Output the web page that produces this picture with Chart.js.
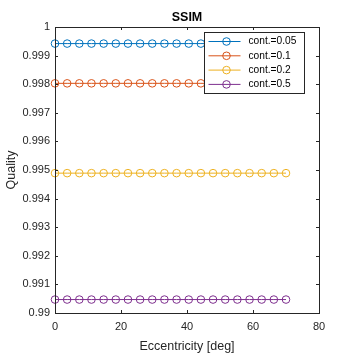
<!DOCTYPE html>
<html>
<head>
<meta charset="utf-8">
<script src="https://cdn.jsdelivr.net/npm/chart.js@4.4.0/dist/chart.umd.min.js"></script>
<style>
  html, body { margin: 0; padding: 0; background: #fff; }
  #wrap { width: 354px; height: 354px; }
</style>
</head>
<body>
<div id="wrap"><canvas id="c" width="354" height="354"></canvas></div>
<script>
// eccentricity samples (deg)
const ecc = [0, 3.68, 7.37, 11.05, 14.74, 18.42, 22.11, 25.79, 29.47, 33.16,
             36.84, 40.53, 44.21, 47.89, 51.58, 55.26, 58.95, 62.63, 66.32, 70];

const labels = ['cont.=0.05', 'cont.=0.1', 'cont.=0.2', 'cont.=0.5'];
const colors = ['#0072BD', '#D95319', '#EDB120', '#7E2F8E'];

const q005 = [0.99942, 0.99942, 0.99942, 0.99942, 0.99942, 0.99942, 0.99942, 0.99942, 0.99942, 0.99942,
              0.99942, 0.99942, 0.99942, 0.99942, 0.99942, 0.99942, 0.99942, 0.99942, 0.99942, 0.99942];
const q01  = [0.99803, 0.99803, 0.99803, 0.99803, 0.99803, 0.99803, 0.99803, 0.99803, 0.99803, 0.99803,
              0.99803, 0.99803, 0.99803, 0.99803, 0.99803, 0.99803, 0.99803, 0.99803, 0.99803, 0.99803];
const q02  = [0.99489, 0.99489, 0.99489, 0.99489, 0.99489, 0.99489, 0.99489, 0.99489, 0.99489, 0.99489,
              0.99489, 0.99489, 0.99489, 0.99489, 0.99489, 0.99489, 0.99489, 0.99489, 0.99489, 0.99489];
const q05  = [0.99047, 0.99047, 0.99047, 0.99047, 0.99047, 0.99047, 0.99047, 0.99047, 0.99047, 0.99047,
              0.99047, 0.99047, 0.99047, 0.99047, 0.99047, 0.99047, 0.99047, 0.99047, 0.99047, 0.99047];

const xTicks = [0, 20, 40, 60, 80];
const yTicks = [0.99, 0.991, 0.992, 0.993, 0.994, 0.995, 0.996, 0.997, 0.998, 0.999, 1];

const series = [q005, q01, q02, q05];
const FONT = 'Liberation Sans, Arial, Helvetica, sans-serif';

// matlab style box + inward ticks + legend inside the axes
const matlabAxes = {
    id: 'matlabAxes',
    afterDatasetsDraw(chart) {
        const c = chart.ctx;
        const a = chart.chartArea;
        const xs = chart.scales.x, ys = chart.scales.y;
        c.save();
        c.strokeStyle = '#262626';
        c.lineWidth = 1;
        c.beginPath();
        xTicks.forEach(v => {
            const px = Math.round(xs.getPixelForValue(v)) + 0.5;
            c.moveTo(px, a.bottom); c.lineTo(px, a.bottom - 3);
            c.moveTo(px, a.top); c.lineTo(px, a.top + 3);
        });
        yTicks.forEach(v => {
            const py = Math.round(ys.getPixelForValue(v)) + 0.5;
            c.moveTo(a.left, py); c.lineTo(a.left + 3, py);
            c.moveTo(a.right, py); c.lineTo(a.right - 3, py);
        });
        c.stroke();
        c.strokeRect(Math.round(a.left) + 0.5, Math.round(a.top) + 0.5,
                     Math.round(a.right - a.left), Math.round(a.bottom - a.top));

        // legend
        const bx = Math.round(a.right) - 115 + 0.5, by = Math.round(a.top) + 5 + 0.5;
        const bw = 100, bh = 61;
        c.fillStyle = '#fff';
        c.fillRect(bx, by, bw, bh);
        c.strokeStyle = '#262626';
        c.strokeRect(bx, by, bw, bh);
        c.font = '10.2px ' + FONT;
        c.textBaseline = 'middle';
        chart.data.datasets.forEach((ds, i) => {
            const ry = by + 9 + i * 14.3;
            c.strokeStyle = ds.borderColor;
            c.beginPath();
            c.moveTo(bx + 4, ry); c.lineTo(bx + 36, ry);
            c.stroke();
            c.beginPath();
            c.arc(bx + 22, ry, 3.8, 0, Math.PI * 2);
            c.stroke();
            c.fillStyle = '#000';
            c.fillText(ds.label, bx + 44, ry);
        });
        c.restore();
    }
};

new Chart(document.getElementById('c'), {
    type: 'line',
    data: {
        datasets: series.map((s, i) => ({
            label: labels[i],
            data: s.map((v, j) => ({ x: ecc[j], y: v })),
            borderColor: colors[i],
            backgroundColor: 'rgba(0,0,0,0)',
            borderWidth: 1,
            pointRadius: 3.8,
            pointBorderWidth: 1,
            pointBorderColor: colors[i],
            pointBackgroundColor: 'rgba(0,0,0,0)',
            tension: 0,
            clip: false
        }))
    },
    plugins: [matlabAxes],
    options: {
        responsive: false,
        animation: false,
        layout: { padding: { left: 0, right: 35, top: 0, bottom: 0 } },
        plugins: {
            legend: { display: false },
            tooltip: { enabled: false },
            title: {
                display: true,
                text: 'SSIM',
                fullSize: false,
                color: '#000',
                font: { family: FONT, size: 12.5, weight: 'bold' },
                padding: { top: 10, bottom: 2 }
            }
        },
        scales: {
            x: {
                type: 'linear',
                min: 0, max: 80,
                afterFit: s => { s.height = 41; },
                afterBuildTicks: s => { s.ticks = xTicks.map(v => ({ value: v })); },
                grid: { display: false, drawTicks: false },
                border: { display: false },
                ticks: { color: '#262626', padding: 7, font: { family: FONT, size: 11 }, maxRotation: 0 },
                title: {
                    display: true, text: 'Eccentricity [deg]', color: '#262626',
                    font: { family: FONT, size: 12.5 }, padding: { top: 0, bottom: 0 }
                }
            },
            y: {
                type: 'linear',
                min: 0.99, max: 1,
                afterFit: s => { s.width = 55; },
                afterBuildTicks: s => { s.ticks = yTicks.map(v => ({ value: v })); },
                grid: { display: false, drawTicks: false },
                border: { display: false },
                ticks: {
                    color: '#262626', padding: 5, font: { family: FONT, size: 11 },
                    callback: v => String(parseFloat(v.toFixed(3)))
                },
                title: {
                    display: true, text: 'Quality', color: '#262626',
                    font: { family: FONT, size: 12.5 }, padding: { top: 4.5, bottom: 0 }
                }
            }
        }
    }
});
</script>
</body>
</html>
